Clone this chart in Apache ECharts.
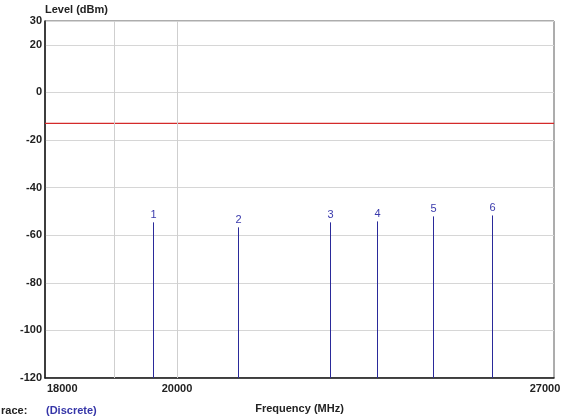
<!DOCTYPE html>
<html>
<head>
<meta charset="utf-8">
<script src="https://cdn.jsdelivr.net/npm/echarts@6/dist/echarts.min.js"></script>
<style>
  html, body { margin: 0; padding: 0; background: #fff; }
  #chart { width: 569px; height: 419px; }
</style>
</head>
<body>
<div id="chart"></div>
<script>
// marker data
const markerIds = ['1', '2', '3', '4', '5', '6'];
const frequencies = [19550, 21130, 22840, 23710, 24750, 25850];
const levels = [-54.6, -56.7, -54.6, -54.2, -52.1, -51.7];
const limitLevel = -13;
const xMin = 17550;
const xMax = 27000;
const xTickValues = [18000, 20000, 27000];
const xGridValues = [18830, 20000];

const FONT = "'Liberation Sans', Arial, sans-serif";
const chart = echarts.init(document.getElementById('chart'));

chart.setOption({
  animation: false,
  textStyle: { fontFamily: FONT },
  grid: {
    left: 45, right: 15, top: 21, bottom: 40,
    show: true, borderColor: '#5a5a5a', borderWidth: 1
  },
  xAxis: {
    type: 'value',
    min: xMin,
    max: xMax,
    name: 'Frequency (MHz)',
    nameLocation: 'middle',
    nameGap: 25,
    nameTextStyle: { color: '#222', fontWeight: 'bold', fontSize: 11, fontFamily: FONT },
    axisLine: { show: true, onZero: false, lineStyle: { color: '#1a1a1a', width: 1.5 } },
    axisTick: { show: false },
    splitLine: { show: false },
    axisLabel: {
      customValues: xTickValues,
      margin: 5,
      formatter: (v) => {
        if (v === 18000) return '{l|' + v + '}';
        if (v === 27000) return '{r|' + v + '}';
        return '{c|' + v + '}';
      },
      rich: {
        l: { color: '#222', fontWeight: 'bold', fontSize: 11, fontFamily: FONT, padding: [0, 14, 0, 0] },
        r: { color: '#222', fontWeight: 'bold', fontSize: 11, fontFamily: FONT, padding: [0, 18, 0, 0] },
        c: { color: '#222', fontWeight: 'bold', fontSize: 11, fontFamily: FONT }
      }
    }
  },
  yAxis: {
    type: 'value',
    min: -120,
    max: 30,
    interval: 20,
    name: 'Level (dBm)',
    nameLocation: 'end',
    nameGap: 3,
    nameTextStyle: {
      color: '#222', fontWeight: 'bold', fontSize: 11, fontFamily: FONT,
      align: 'left', verticalAlign: 'bottom'
    },
    axisLine: { show: true, onZero: false, lineStyle: { color: '#1a1a1a', width: 1.5 } },
    axisTick: { show: false },
    axisLabel: { color: '#222', fontWeight: 'bold', fontSize: 11, fontFamily: FONT, margin: 3 },
    splitLine: { lineStyle: { color: '#d6d6d6', width: 1 } }
  },
  series: [
    {
      // vertical grid lines
      type: 'line',
      data: [],
      silent: true,
      markLine: {
        silent: true,
        symbol: 'none',
        label: { show: false },
        lineStyle: { color: '#cfcfcf', type: 'solid', width: 1 },
        data: xGridValues.map((x) => ({ xAxis: x }))
      }
    },
    {
      // limit line across the whole span
      type: 'line',
      silent: true,
      symbol: 'none',
      data: [[xMin, limitLevel], [xMax, limitLevel]],
      lineStyle: { color: '#d42a2a', width: 1.2 },
      itemStyle: { color: '#d42a2a' }
    },
    {
      type: 'custom',
      silent: true,
      data: frequencies.map((f, i) => [f, levels[i]]),
      renderItem: (params, api) => {
        const top = api.coord([api.value(0), api.value(1)]);
        const base = api.coord([api.value(0), -120]);
        const x = Math.round(top[0]) + 0.5;
        return {
          type: 'group',
          children: [
            {
              type: 'line',
              shape: { x1: x, y1: base[1], x2: x, y2: top[1] },
              style: { stroke: '#2a2a9a', lineWidth: 1 }
            },
            {
              type: 'text',
              x: x,
              y: top[1] - 2,
              style: {
                text: markerIds[params.dataIndex],
                fill: '#3a3aac',
                font: '11px ' + FONT,
                align: 'center',
                verticalAlign: 'bottom'
              }
            }
          ]
        };
      }
    }
  ],
  graphic: [
    {
      type: 'text', left: 1, top: 405,
      style: { text: 'race:', fill: '#222', font: 'bold 11px ' + FONT }
    },
    {
      type: 'text', left: 46, top: 405,
      style: { text: '(Discrete)', fill: '#3535a8', font: 'bold 11px ' + FONT }
    }
  ]
});
</script>
</body>
</html>
